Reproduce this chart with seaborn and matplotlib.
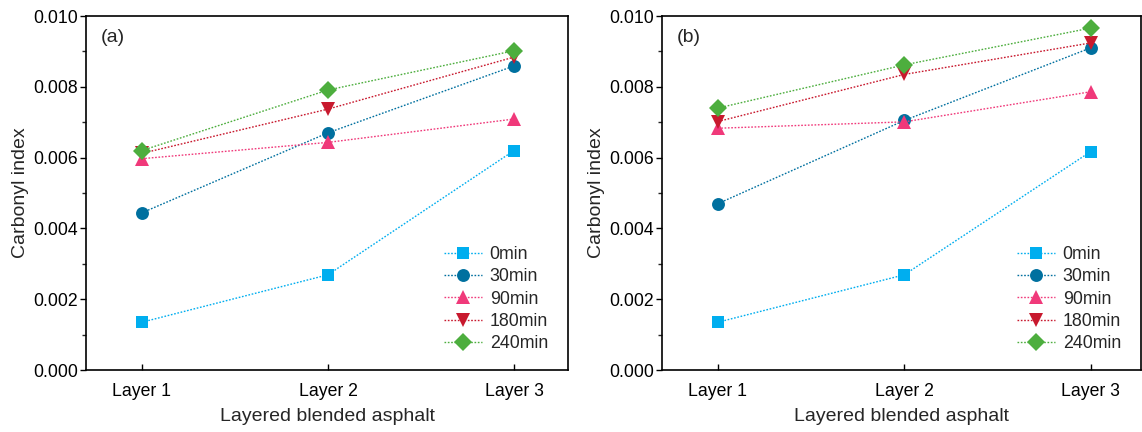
import numpy as np
import pandas as pd
import matplotlib
matplotlib.use("Agg")
import matplotlib.pyplot as plt
import seaborn as sns
from matplotlib.ticker import MultipleLocator

sns.set_theme(style="white")
plt.rcParams['font.family'] = ['Liberation Sans', 'DejaVu Sans']

layers = ["Layer 1", "Layer 2", "Layer 3"]
times = ["0min", "30min", "90min", "180min", "240min"]

# Panel (a)
a_0 = [0.00135, 0.00269, 0.00620]
a_30 = [0.00444, 0.00670, 0.00859]
a_90 = [0.00597, 0.00643, 0.00709]
a_180 = [0.00612, 0.00737, 0.00884]
a_240 = [0.00620, 0.00791, 0.00902]

# Panel (b)
b_0 = [0.00135, 0.00269, 0.00617]
b_30 = [0.00470, 0.00705, 0.00910]
b_90 = [0.00683, 0.00701, 0.00786]
b_180 = [0.00702, 0.00835, 0.00924]
b_240 = [0.00740, 0.00862, 0.00966]

colors = ["#00AEEF", "#00709F", "#F0397A", "#C8192E", "#4DAE3E"]
markers = ["s", "o", "^", "v", "D"]
msizes = [8.8, 9.3, 9.8, 9.8, 8.8]

panels = [("(a)", [a_0, a_30, a_90, a_180, a_240]),
          ("(b)", [b_0, b_30, b_90, b_180, b_240])]

fig = plt.figure(figsize=(11.42, 4.32), dpi=100)
axes = [fig.add_axes([0.0753, 0.1435, 0.4221, 0.8194]),
        fig.add_axes([0.5797, 0.1435, 0.4194, 0.8194])]
xlims = [(-0.30, 2.29), (-0.30, 2.27)]

for ax, (tag, series), xl in zip(axes, panels, xlims):
    rows = []
    for t, vals in zip(times, series):
        for i, v in enumerate(vals):
            rows.append({"layer": i, "time": t, "value": v})
    df = pd.DataFrame(rows)
    for t, c, m, ms in zip(times, colors, markers, msizes):
        sub = df[df["time"] == t]
        sns.lineplot(data=sub, x="layer", y="value", ax=ax, color=c,
                     marker=m, markersize=ms, markeredgewidth=0,
                     linewidth=1.0, linestyle=(0, (1.2, 1.2)),
                     label=t, legend=False)
    ax.set_xlim(*xl)
    ax.set_ylim(0, 0.010)
    ax.set_xticks([0, 1, 2])
    ax.set_xticklabels(layers)
    ax.yaxis.set_major_locator(MultipleLocator(0.002))
    ax.yaxis.set_minor_locator(MultipleLocator(0.001))
    ax.yaxis.set_major_formatter(matplotlib.ticker.FormatStrFormatter("%.3f"))
    ax.tick_params(axis="y", which="major", direction="out", length=4, width=1,
                   labelsize=12.7, left=True, pad=2, colors="black")
    ax.tick_params(axis="y", which="minor", direction="out", length=3, width=1, left=True)
    ax.tick_params(axis="x", which="major", direction="in", length=4, width=1,
                   labelsize=12.7, bottom=True, pad=9, colors="black")
    for sp in ax.spines.values():
        sp.set_visible(True)
        sp.set_color("black")
        sp.set_linewidth(1.2)
    ax.set_xlabel("Layered blended asphalt", fontsize=14, labelpad=6)
    ax.set_ylabel("Carbonyl index", fontsize=14, labelpad=3)
    ax.text(0.03, 0.94, tag, transform=ax.transAxes, fontsize=14,
            ha="left", va="center")
    handles, labels = ax.get_legend_handles_labels()
    ax.legend(handles, labels, loc="lower right", frameon=False, fontsize=12.8,
              handlelength=2.1, handletextpad=0.45, labelspacing=0.3,
              borderaxespad=0, bbox_to_anchor=(0.973, 0.03))

fig.savefig("out.png", dpi=100)
